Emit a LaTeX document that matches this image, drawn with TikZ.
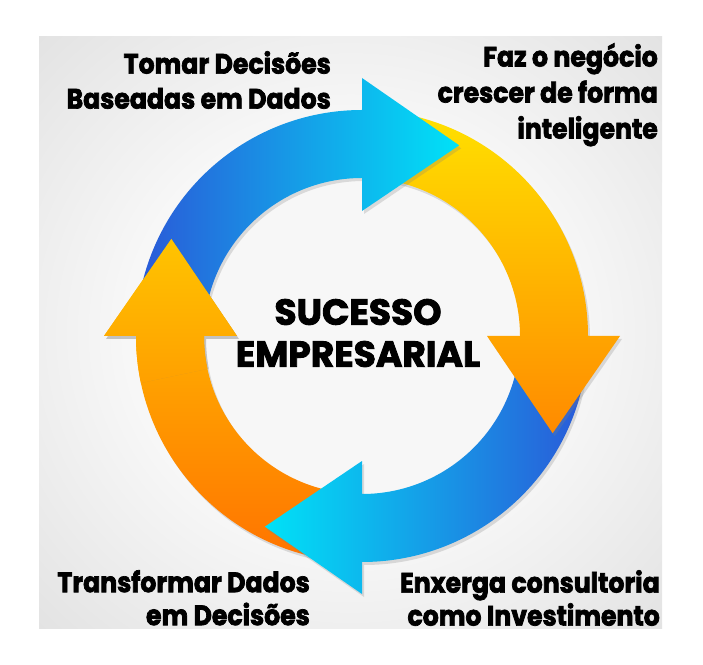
\documentclass[tikz,border=0pt]{standalone}
\usepackage{fontspec}
\setmainfont{Poppins}[FakeStretch=0.9, BoldFeatures={FakeBold=2.5}]
\usetikzlibrary{shadows}
\definecolor{cBlueD}{HTML}{2A5AD8}
\definecolor{cCyan}{HTML}{00E2F7}
\definecolor{cYel}{HTML}{FFE000}
\definecolor{cOrg}{HTML}{FF8A00}
\definecolor{cOrgD}{HTML}{FF7400}
\definecolor{cYelD}{HTML}{FFC400}
\definecolor{cBgIn}{HTML}{F7F7F7}
\definecolor{cBgOut}{HTML}{B9B9B9}
\pgfdeclareradialshading{bgshade}{\pgfpoint{0bp}{0bp}}{color(0bp)=(cBgIn); color(18bp)=(cBgIn); color(72bp)=(cBgOut)}

\begin{document}
\begin{tikzpicture}[x=1pt, y=1pt,
  lbl/.style={font=\bfseries\fontsize{28}{35}\selectfont, align=right, inner sep=0pt, anchor=north east},
  ttl/.style={font=\bfseries\addfontfeatures{FakeStretch=1}\fontsize{36}{42}\selectfont, align=center, inner sep=0pt},
  ring/.style={drop shadow={opacity=0.25, shadow xshift=2pt, shadow yshift=-3pt}}
]
\useasboundingbox (0,0) rectangle (703,664);
\def\Ro{226} \def\Ri{158} \def\Rho{258} \def\Rhi{125} \def\Rt{214}
% one quarter of the ring: band from b+78 down to b, head to b-27
\def\ringarrow#1{(#1+78:\Ro) arc[start angle=#1+78, end angle=#1, radius=\Ro] -- (#1:\Rho) -- (#1-27:\Rt) -- (#1:\Rhi) -- (#1:\Ri) arc[start angle=#1, end angle=#1+78, radius=\Ri] -- cycle}

% BACKGROUND
\shade[shading=bgshade] (39,36) rectangle (662,627);

% RING (drawn backwards, left head redrawn on top)
\begin{scope}[shift={(362,328)}]
\shade[ring, top color=cYelD, bottom color=cOrgD] \ringarrow{180};
\shade[ring, left color=cCyan, right color=cBlueD] \ringarrow{270};
\shade[ring, top color=cYel, bottom color=cOrg] \ringarrow{0};
\shade[ring, left color=cBlueD, right color=cCyan] \ringarrow{90};
\begin{scope}
\clip (0,0) -- (192:300) arc[start angle=192, end angle=140, radius=300] -- cycle;
\shade[ring, top color=cYelD, bottom color=cOrgD] \ringarrow{180};
\end{scope}
\end{scope}

% LABELS
\node[lbl] (tomar) at (331,613) {Tomar Decisões\\Baseadas em Dados};
\node[lbl, font=\bfseries\fontsize{28}{36}\selectfont] (faz) at (658,621) {Faz o negócio\\crescer de forma\\inteligente};
\node[lbl, font=\bfseries\fontsize{28}{33}\selectfont] (transf) at (310,94) {Transformar Dados\\em Decisões};
\node[lbl, font=\bfseries\fontsize{28}{33}\selectfont] (enxerga) at (660,94) {Enxerga consultoria\\como Investimento};
\node[ttl] (sucesso) at (358,331) {SUCESSO\\EMPRESARIAL};

\end{tikzpicture}
\end{document}
